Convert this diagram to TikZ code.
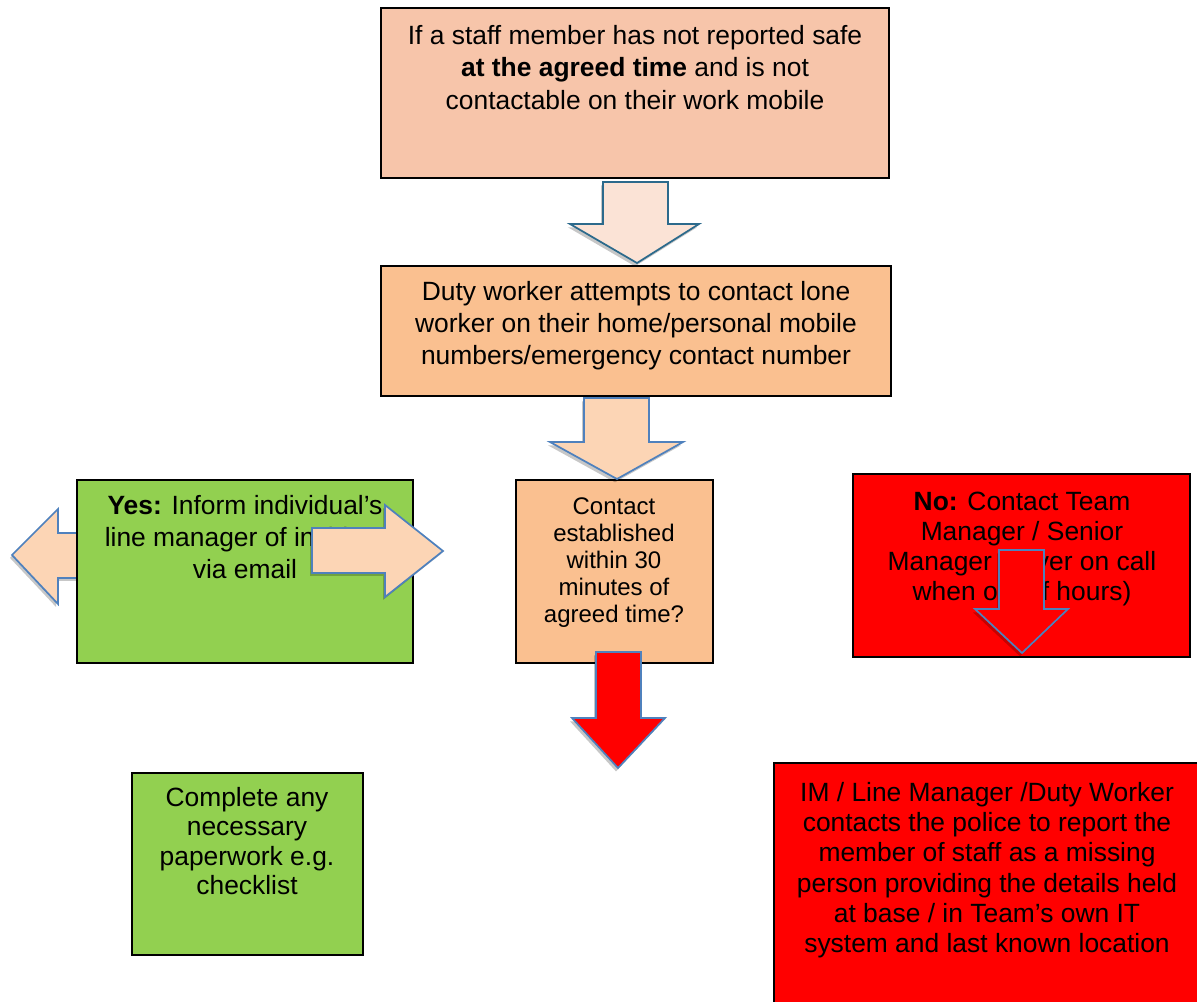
\documentclass[tikz,border=0pt]{standalone}
\usepackage{fontspec}
\setmainfont{Liberation Sans}
\usetikzlibrary{fit}
\definecolor{topfill}{HTML}{F7C5AA}
\definecolor{orfill}{HTML}{FAC090}
\definecolor{grn}{HTML}{92D050}
\definecolor{rd}{HTML}{FF0000}
\definecolor{arrA}{HTML}{FBE3D6}
\definecolor{arrB}{HTML}{FCD5B5}
\definecolor{edgeA}{HTML}{2C6A8C}
\definecolor{edgeB}{HTML}{4F81BD}
\begin{document}
\begin{tikzpicture}[x=0.75pt,y=-0.75pt,
  box/.style={draw=black,line width=1.4pt,inner sep=0pt},
  txt/.style={anchor=north,align=center,inner sep=0pt,font=\fontsize{19.8}{24.4}\selectfont},
  blockarrow/.style={line width=1.3pt,line join=miter},
  shade/.style={fill=black,opacity=0.22}]
\useasboundingbox (0,0) rectangle (1197,1001);

% left arrow (behind Yes box)
\fill[shade,xshift=-1.5pt,yshift=-2.2pt] (120,533) -- (58,533) -- (58,509) -- (12,555) -- (58,604) -- (58,578) -- (120,578) -- cycle;
\path[blockarrow,draw=edgeB,fill=arrB] (120,533) -- (58,533) -- (58,509) -- (12,555) -- (58,604) -- (58,578) -- (120,578) -- cycle;

% boxes
\node[box,fill=topfill,fit={(381,8) (889,178)}] (start) {};
\node[box,fill=orfill,fit={(381,266) (891,396)}] (duty) {};
\node[box,fill=orfill,fit={(516,480) (713,663)}] (contact) {};
\node[box,fill=grn,fit={(77,480) (413,663)}] (yes) {};
\node[box,fill=rd,fit={(853,474) (1190,657)}] (no) {};
\node[box,fill=grn,fit={(132,773) (363,955)}] (paper) {};
\node[box,fill=rd,fit={(774,763) (1202,1010)}] (police) {};

% texts
\node[txt] (starttxt) at (635,25) {If a staff member has not reported safe\\\textbf{at the agreed time} and is not\\contactable on their work mobile};
\node[txt,font=\fontsize{19.8}{24}\selectfont] (dutytxt) at (636,281) {Duty worker attempts to contact lone\\worker on their home/personal mobile\\numbers/emergency contact number};
\node[txt,font=\fontsize{18}{20.25}\selectfont] (contacttxt) at (614,497) {Contact\\established\\within 30\\minutes of\\agreed time?};
\node[txt,font=\fontsize{19.8}{24}\selectfont] (yestxt) at (245,495) {\textbf{Yes:} Inform individual’s\\line manager of incident\\via email};
\node[txt,font=\fontsize{19.8}{22.5}\selectfont] (notxt) at (1022,492) {\textbf{No:} Contact Team\\Manager / Senior\\Manager (cover on call\\when out of hours)};
\node[txt,font=\fontsize{19.8}{22}\selectfont] (papertxt) at (247,787) {Complete any\\necessary\\paperwork e.g.\\checklist};
\node[txt,font=\fontsize{19.8}{22.7}\selectfont] (policetxt) at (987,782) {IM / Line Manager /Duty Worker\\contacts the police to report the\\member of staff as a missing\\person providing the details held\\at base / in Team’s own IT\\system and last known location};

% arrow 1: start -> duty
\fill[shade,xshift=-1.5pt,yshift=-2.5pt] (603,182) -- (668,182) -- (668,224) -- (699,224) -- (637,263) -- (570,224) -- (603,224) -- cycle;
\path[blockarrow,draw=edgeA,fill=arrA] (603,182) -- (668,182) -- (668,224) -- (699,224) -- (637,263) -- (570,224) -- (603,224) -- cycle;

% arrow 2: duty -> contact
\fill[shade,xshift=-1.5pt,yshift=-2.5pt] (584,398) -- (649,398) -- (649,442) -- (683,442) -- (617,479) -- (550,442) -- (584,442) -- cycle;
\path[blockarrow,draw=edgeB,fill=arrB] (584,398) -- (649,398) -- (649,442) -- (683,442) -- (617,479) -- (550,442) -- (584,442) -- cycle;

% red arrow below contact
\fill[shade,xshift=-1.5pt,yshift=-2.5pt] (596,652) -- (641,652) -- (641,718) -- (665,718) -- (618,768) -- (572,718) -- (596,718) -- cycle;
\path[blockarrow,draw=edgeB,fill=rd] (596,652) -- (641,652) -- (641,718) -- (665,718) -- (618,768) -- (572,718) -- (596,718) -- cycle;

% right arrow over Yes box
\fill[shade,xshift=-1.5pt,yshift=-2.2pt] (312,528) -- (385,528) -- (385,505) -- (443,551) -- (385,597) -- (385,573) -- (312,573) -- cycle;
\path[blockarrow,draw=edgeB,fill=arrB] (312,528) -- (385,528) -- (385,505) -- (443,551) -- (385,597) -- (385,573) -- (312,573) -- cycle;

% arrow over No box
\fill[shade,xshift=-1.5pt,yshift=-2.5pt] (999,550) -- (1044,550) -- (1044,609) -- (1068,609) -- (1022,653) -- (975,609) -- (999,609) -- cycle;
\path[blockarrow,draw=edgeB,fill=rd] (999,550) -- (1044,550) -- (1044,609) -- (1068,609) -- (1022,653) -- (975,609) -- (999,609) -- cycle;
\end{tikzpicture}
\end{document}
